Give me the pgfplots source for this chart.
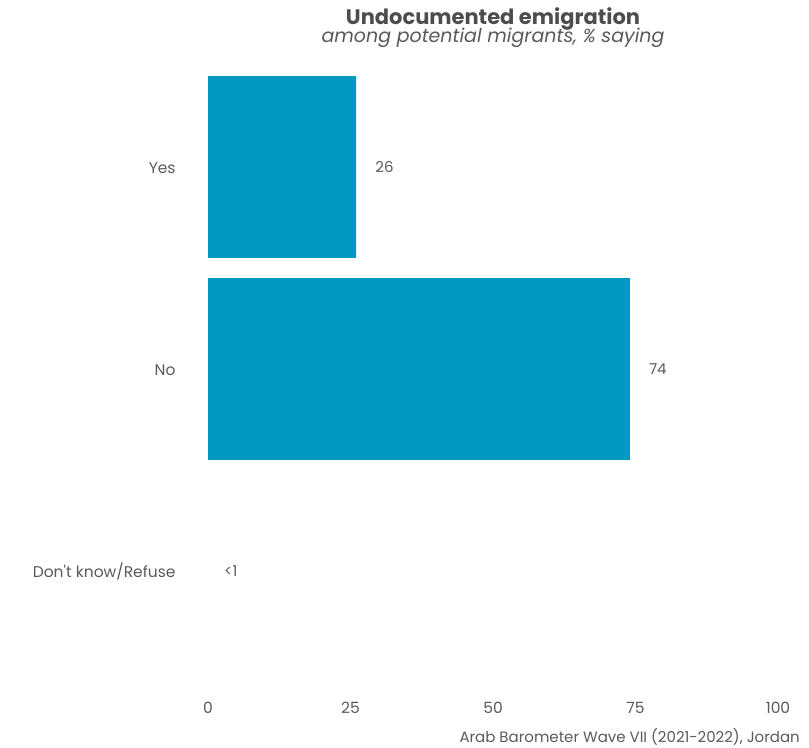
\documentclass[border=0pt]{standalone}
\usepackage{pgfplots}
\pgfplotsset{compat=1.18}
\usepackage{fontspec}
\setmainfont{Poppins}[Ligatures=TeXOff]
\definecolor{barblue}{HTML}{0099C0}
\definecolor{txt}{HTML}{5A5A5A}
\definecolor{ttl}{HTML}{4D4D4D}
\begin{document}
\begin{tikzpicture}
\useasboundingbox (0,0) rectangle (809bp,748bp);
\begin{axis}[
  at={(208bp,76bp)}, anchor=south west,
  width=570bp, height=606bp, scale only axis,
  xmin=0, xmax=100, ymin=-0.5, ymax=2.5,
  y dir=reverse,
  axis line style={draw=none},
  xbar, bar width=0.9, bar shift=0pt,
  xtick={0,25,50,75,100},
  ytick={0,1,2},
  yticklabels={Yes,No,Don't know/Refuse},
  tick style={draw=none},
  /pgf/number format/assume math mode=true,
  ticklabel style={font=\fontsize{15.5bp}{18bp}\selectfont, text=txt},
  yticklabel style={anchor=east, inner sep=0pt, xshift=-28bp, yshift=-1bp},
  xticklabel style={anchor=north, inner sep=0pt, yshift=-30bp},
  point meta=explicit symbolic,
  nodes near coords,
  every node near coord/.append style={anchor=west, inner sep=0pt, xshift=19bp, text=txt, font=\fontsize{15bp}{18bp}\selectfont},
  clip=false,
]
\addplot[fill=barblue, draw=none] table[x=v, y=c, meta=l] {
v c l
26 0 26
74 1 74
};
\addplot[fill=none, draw=none, every node near coord/.append style={xshift=-3bp}] table[x=v, y=c, meta=l] {
v c l
0 2 {<1}
};
\end{axis}
\node[text=ttl, font=\fontsize{21bp}{25bp}\selectfont\bfseries] at (493bp,729bp) {Undocumented emigration};
\node[text=txt, font=\fontsize{19bp}{22bp}\selectfont\itshape] at (493bp,710bp) {among potential migrants, \% saying};
\node[text=txt, anchor=east, inner sep=0pt, font=\fontsize{15bp}{18bp}\selectfont] at (800bp,11bp) {Arab Barometer Wave VII (2021-2022), Jordan};
\end{tikzpicture}
\end{document}
